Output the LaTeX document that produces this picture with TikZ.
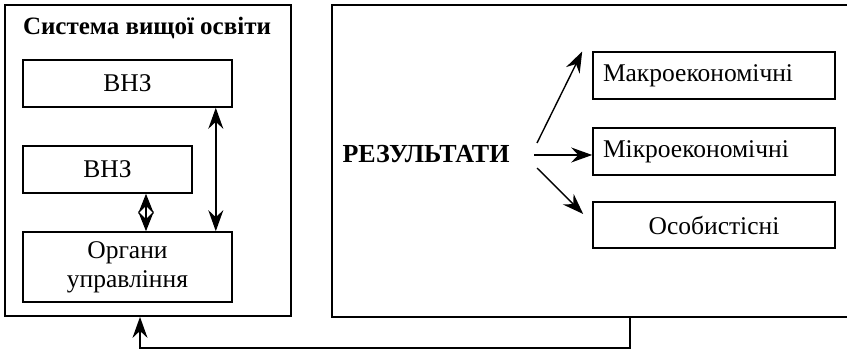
\documentclass[tikz,border=0pt]{standalone}
\usepackage{fontspec}
\setmainfont{Liberation Serif}
\usetikzlibrary{arrows.meta,calc}
\begin{document}
\begin{tikzpicture}[x=1pt,y=-1pt,
  box/.style={draw,line width=1.6pt,inner sep=0pt,font=\fontsize{25.5}{27}\selectfont},
  outer/.style={draw,line width=1.8pt,inner sep=0pt},
  arr/.style={line width=1.4pt,-{Stealth[length=21pt,width=15pt,inset=7pt]}},
  darr/.style={line width=1.4pt,{Stealth[length=21pt,width=15pt,inset=7pt]}-{Stealth[length=21pt,width=15pt,inset=7pt]}},
  sdarr/.style={line width=1.4pt,{Stealth[length=20pt,width=16pt,inset=8pt]}-{Stealth[length=20pt,width=16pt,inset=8pt]}}]
\useasboundingbox (0,0) rectangle (847,350);
% outer boxes
\node[outer,minimum width=286pt,minimum height=311pt] (sys) at (148,160.5) {};
\node[outer,minimum width=520pt,minimum height=312pt] (res) at (592,161) {};
\node[font=\bfseries\fontsize{25}{27}\selectfont,anchor=base] (title) at (147,35) {Система вищої освіти};
% inner boxes
\node[box,minimum width=209pt,minimum height=47pt] (v1) at (127.5,83.5) {ВНЗ};
\node[box,minimum width=169pt,minimum height=47pt] (v2) at (107.5,169.5) {ВНЗ};
\node[box,minimum width=209pt,minimum height=70pt,align=center,font=\fontsize{25.5}{29}\selectfont] (org) at (127.5,267) {Органи\\управління};
\draw[darr] ([xshift=-17pt]v1.south east) -- ([xshift=-17pt]v1.south east |- org.north);
\draw[sdarr] ([xshift=38.5pt]v2.south) -- ([xshift=38.5pt]v2.south |- org.north);
% results
\node[font=\bfseries\fontsize{26}{28}\selectfont] (rez) at (426,154) {РЕЗУЛЬТАТИ};
\node[box,minimum width=242pt,minimum height=47pt,text width=222pt,align=left] (mac) at (714,75.5) {Макроекономічні};
\node[box,minimum width=242pt,minimum height=47pt,text width=222pt,align=left] (mic) at (714,151.5) {Мікроекономічні};
\node[box,minimum width=242pt,minimum height=46pt] (oso) at (714,225) {Особистісні};
\coordinate (a1) at (537,143);
\coordinate (a2) at (534,155);
\coordinate (a3) at (537,168);
\draw[arr] (a1) -- ([shift={(-10pt,24pt)}]mac.west);
\draw[arr] (a2) -- (mic.west |- a2);
\draw[arr] (a3) -- ([shift={(-9pt,11pt)}]oso.west);
% feedback
\coordinate (fb1) at (630,348);
\draw[arr] (res.south -| fb1) -- (fb1) -| (sys.south -| 140,0);
\end{tikzpicture}
\end{document}
